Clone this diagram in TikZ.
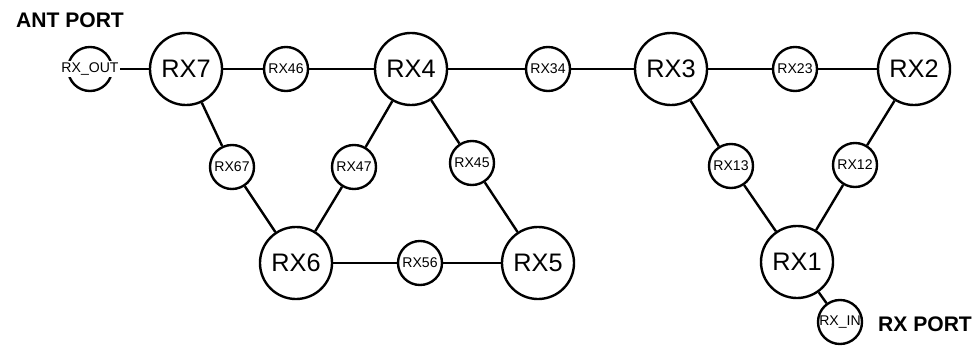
\documentclass[tikz,border=0pt]{standalone}
\usepackage{fontspec}
\setmainfont{Liberation Sans}
\usepackage{tikz}

\begin{document}
\begin{tikzpicture}[x=0.025cm,y=-0.025cm,line width=1.7pt,
  big/.style={draw=black,circle,minimum size=1.8cm,inner sep=0pt,font=\fontsize{18}{20}\selectfont},
  small/.style={draw=black,circle,minimum size=1.1cm,inner sep=0pt,font=\fontsize{10}{12}\selectfont},
  port/.style={font=\fontsize{15}{17}\selectfont\bfseries}]
\useasboundingbox (0,0) rectangle (977,353);
\node[big] (rx7) at (186, 69) {RX7};
\node[big] (rx4) at (411, 69) {RX4};
\node[big] (rx3) at (671, 69) {RX3};
\node[big] (rx2) at (914, 69) {RX2};
\node[big] (rx6) at (296, 263) {RX6};
\node[big] (rx5) at (538, 263) {RX5};
\node[big] (rx1) at (797, 262) {RX1};
\node[small] (rx46) at (286, 69) {RX46};
\node[small] (rx34) at (548, 69) {RX34};
\node[small] (rx23) at (795, 69) {RX23};
\node[small] (rx67) at (232, 167) {RX67};
\node[small] (rx47) at (354, 167) {RX47};
\node[small] (rx45) at (472, 163) {RX45};
\node[small] (rx13) at (731, 166) {RX13};
\node[small] (rx12) at (855, 165) {RX12};
\node[small] (rx56) at (420, 263) {RX56};
\node[small] (rxout) at (90, 69) {};
\node[small] (rxin) at (840, 322) {};
\draw (rxout) to (rx7);
\draw (rx7) to (rx46);
\draw (rx46) to (rx4);
\draw (rx4) to (rx34);
\draw (rx34) to (rx3);
\draw (rx3) to (rx23);
\draw (rx23) to (rx2);
\draw (rx7) to (rx67);
\draw (rx67) to (rx6);
\draw (rx4) to (rx47);
\draw (rx47) to (rx6);
\draw (rx4) to (rx45);
\draw (rx45) to (rx5);
\draw (rx6) to (rx56);
\draw (rx56) to (rx5);
\draw (rx3) to (rx13);
\draw (rx13) to (rx1);
\draw (rx2) to (rx12);
\draw (rx12) to (rx1);
\draw (rx1) to (rxin);
\node[fill=white,inner sep=1pt,font=\fontsize{10}{12}\selectfont] (outtext) at (rxout) {RX\_OUT};
\node[inner sep=0pt,font=\fontsize{10}{12}\selectfont] (intext) at (rxin) {RX\_IN};
\node[port] (ant) at (70, 20) {ANT PORT};
\node[port] (rxport) at (925, 324) {RX PORT};
\end{tikzpicture}
\end{document}
